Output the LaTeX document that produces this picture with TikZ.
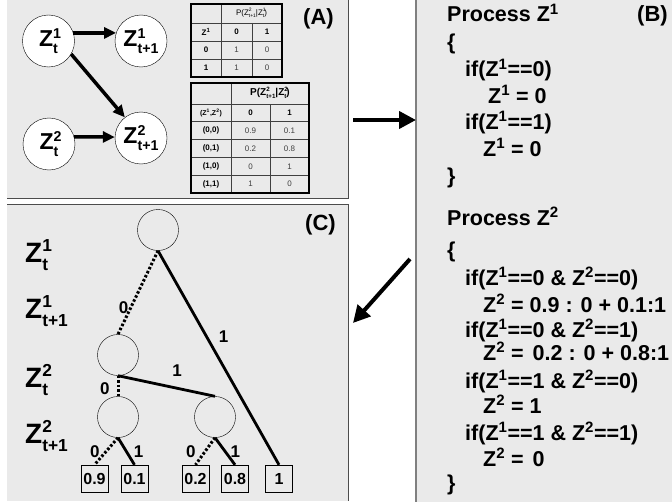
\documentclass[tikz,border=0pt]{standalone}
\usepackage{fontspec}
\usepackage{graphicx}
\setmainfont{Liberation Sans}
\usetikzlibrary{arrows.meta,positioning}
\definecolor{panelgray}{RGB}{234,234,234}
\newcommand{\zz}[2]{Z\rlap{\raisebox{.38em}{\scalebox{.62}{#1}}}\raisebox{-.3em}{\scalebox{.62}{#2}}}

\begin{document}
\begin{tikzpicture}[x=1pt,y=-1pt,
    edgeline/.style={draw=black!70,line width=1pt},
    cellline/.style={draw=black!75,line width=0.8pt},
    cnode/.style={circle,draw,fill=white,minimum size=52pt,inner sep=0pt,font=\fontsize{23}{25}\selectfont\bfseries},
    tnode/.style={circle,draw,minimum size=41pt,inner sep=0pt},
    leaf/.style={draw,minimum width=27pt,minimum height=27pt,inner sep=0pt,font=\fontsize{16}{18}\selectfont\bfseries},
    arc0/.style={line width=3pt,dash pattern=on 2.5pt off 2pt},
    arc1/.style={line width=2.8pt},
    lab/.style={inner sep=0pt,font=\fontsize{17}{19}\selectfont\bfseries},
    code/.style={anchor=base west,inner sep=0pt,font=\fontsize{21.5}{24}\selectfont\bfseries},
    paneltag/.style={anchor=base west,inner sep=0pt,font=\fontsize{22}{24}\selectfont\bfseries},
    lvl/.style={anchor=base west,inner sep=0pt,font=\fontsize{28}{30}\selectfont\bfseries},
    cell/.style={inner sep=0pt,font=\fontsize{8}{9}\selectfont\bfseries},
    val/.style={inner sep=0pt,font=\fontsize{8}{9}\selectfont,text=black!75},
    dagarrow/.style={line width=3.5pt,-{Triangle[length=12pt,width=11pt]}},
    bigarrow/.style={line width=4pt,-{Triangle[length=17pt,width=17pt]}}]
  \useasboundingbox (0,0) rectangle (672,503);

  % panels
  \fill[panelgray] (7,-2) rectangle (348,198);
  \fill[panelgray] (7,204) rectangle (348,501);
  \fill[panelgray] (416,-2) rectangle (674,502);
  \draw[edgeline] (7,198) -- (348,198) -- (348,-2);
  \draw[edgeline] (7,204) -- (348,204) -- (348,501);
  \draw[line width=2pt,gray] (416,-2) -- (416,502);

  % (A) network
  \node[cnode] (z1t) at (48.5,41) {\zz{1}{t}};
  \node[cnode] (z1n) at (141,41) {\zz{1}{t+1}};
  \node[cnode] (z2t) at (49,144) {\zz{2}{t}};
  \node[cnode] (z2n) at (141,138) {\zz{2}{t+1}};
  \draw[dagarrow] (z1t.18) -- (z1n.162);
  \draw[dagarrow] (z2t.16) -- (z2n.178);
  \draw[dagarrow] (z1t.-30) -- (z2n.128);
  \node[paneltag] (ta) at (303,25) {(A)};

  % (A) first table
  \draw[cellline] (221,4) -- (221,77);
  \draw[cellline] (252,23) -- (252,77);
  \draw[cellline] (191,23) -- (282,23);
  \draw[cellline] (191,41) -- (282,41);
  \draw[cellline] (191,59) -- (282,59);
  \draw[line width=1.5pt] (191,4) rectangle (282,77);
  \node[cell,font=\fontsize{8}{9}\selectfont] (ha) at (251.5,13) {P(\zz{2}{t+1}|\zz{1}{t})};
  \node[cell] (a10) at (206,32) {Z\textsuperscript{1}};
  \node[cell] (a11) at (236.5,32) {0};
  \node[cell] (a12) at (267,32) {1};
  \node[cell] (a20) at (206,50) {0};
  \node[val] (a21) at (236.5,50) {1};
  \node[val] (a22) at (267,50) {0};
  \node[cell] (a30) at (206,68) {1};
  \node[val] (a31) at (236.5,68) {1};
  \node[val] (a32) at (267,68) {0};

  % (A) second table
  \draw[cellline] (231,83) -- (231,193);
  \draw[cellline] (270,104) -- (270,193);
  \draw[cellline] (191,104) -- (309,104);
  \draw[cellline] (191,121.8) -- (309,121.8);
  \draw[cellline] (191,139.6) -- (309,139.6);
  \draw[cellline] (191,157.4) -- (309,157.4);
  \draw[cellline] (191,175.2) -- (309,175.2);
  \draw[line width=1.5pt] (191,83) rectangle (309,193);
  \node[cell,font=\fontsize{10}{11}\selectfont\bfseries] (hb) at (270,93) {P(\zz{2}{t+1}|\zz{2}{t})};
  \node[cell,font=\fontsize{7}{8}\selectfont\bfseries] (b10) at (211,113) {(Z\textsuperscript{1},Z\textsuperscript{2})};
  \node[cell] (b11) at (250.5,113) {0};
  \node[cell] (b12) at (289.5,113) {1};
  \node[cell] (b20) at (211,130.7) {(0,0)};
  \node[val] (b21) at (250.5,130.7) {0.9};
  \node[val] (b22) at (289.5,130.7) {0.1};
  \node[cell] (b30) at (211,148.5) {(0,1)};
  \node[val] (b31) at (250.5,148.5) {0.2};
  \node[val] (b32) at (289.5,148.5) {0.8};
  \node[cell] (b40) at (211,166.3) {(1,0)};
  \node[val] (b41) at (250.5,166.3) {0};
  \node[val] (b42) at (289.5,166.3) {1};
  \node[cell] (b50) at (211,184.1) {(1,1)};
  \node[val] (b51) at (250.5,184.1) {1};
  \node[val] (b52) at (289.5,184.1) {0};

  % (B) code
  \node[code] (p1) at (447,22) {Process Z\textsuperscript{1}};
  \node[paneltag] (tb) at (637,22) {(B)};
  \node[code] (o1) at (447,49) {\{};
  \node[code] (i1) at (465,77) {if(Z\textsuperscript{1}==0)};
  \node[code] (s1) at (488,103) {Z\textsuperscript{1} = 0};
  \node[code] (i2) at (465,129) {if(Z\textsuperscript{1}==1)};
  \node[code] (s2) at (483,156) {Z\textsuperscript{1} = 0};
  \node[code] (c1) at (447,183) {\}};
  \node[code] (p2) at (447,225) {Process Z\textsuperscript{2}};
  \node[code] (o2) at (447,257) {\{};
  \node[code] (i3) at (465,285) {if(Z\textsuperscript{1}==0 \& Z\textsuperscript{2}==0)};
  \node[code] (s3) at (483,312) {Z\textsuperscript{2} = 0.9 : 0 + 0.1:1};
  \node[code] (i4) at (465,337) {if(Z\textsuperscript{1}==0 \& Z\textsuperscript{2}==1)};
  \node[code] (s4) at (483,360) {Z\textsuperscript{2} =\kern3pt{} 0.2 : 0 + 0.8:1};
  \node[code] (i5) at (465,388) {if(Z\textsuperscript{1}==1 \& Z\textsuperscript{2}==0)};
  \node[code] (s5) at (483,413) {Z\textsuperscript{2} = 1};
  \node[code] (i6) at (465,440) {if(Z\textsuperscript{1}==1 \& Z\textsuperscript{2}==1)};
  \node[code] (s6) at (483,466) {Z\textsuperscript{2} =\kern3pt{} 0};
  \node[code] (c2) at (447,490) {\}};

  % arrows between panels
  \coordinate (ab0) at (353,120);
  \coordinate (ab1) at (416,120);
  \draw[bigarrow] (ab0) -- (ab1);
  \coordinate (bc0) at (410,259);
  \coordinate (bc1) at (353,323);
  \draw[bigarrow] (bc0) -- (bc1);

  % (C) tree
  \node[paneltag] (tc) at (305,230) {(C)};
  \node[lvl] (l1) at (25,262) {\zz{1}{t}};
  \node[lvl] (l2) at (25,318) {\zz{1}{t+1}};
  \node[lvl] (l3) at (25,387) {\zz{2}{t}};
  \node[lvl] (l4) at (25,443) {\zz{2}{t+1}};
  \node[tnode] (r) at (158,230) {};
  \node[tnode] (m) at (118,355) {};
  \node[tnode] (ml) at (118,417) {};
  \node[tnode] (mr) at (215,417) {};
  \node[leaf] (q1) at (94.5,478.5) {0.9};
  \node[leaf] (q2) at (134.5,478.5) {0.1};
  \node[leaf] (q3) at (195.5,478.5) {0.2};
  \node[leaf] (q4) at (235,478.5) {0.8};
  \node[leaf] (q5) at (279,478.5) {1};
  \draw[arc0] (r.south) -- node[lab,pos=.68,left=1pt] (e1) {0} (m.north);
  \draw[arc1] (r.south) -- node[lab,pos=.4,right=11pt] (e2) {1} (q5.north);
  \draw[arc0] (m.south) -- node[lab,pos=.65,left=7pt] (e3) {0} (ml.north);
  \draw[arc1] (m.south) -- node[lab,pos=.61,above=10pt] (e4) {1} (mr.north);
  \draw[arc0] (ml.south) -- node[lab,pos=.51,left=5pt] (e5) {0} (q1.north);
  \draw[arc1] (ml.south) -- node[lab,pos=.51,right=6pt] (e6) {1} (q2.north);
  \draw[arc0] (mr.south) -- node[lab,pos=.51,left=8pt] (e7) {0} (q3.north);
  \draw[arc1] (mr.south) -- node[lab,pos=.51,right=4pt] (e8) {1} (q4.north);
\end{tikzpicture}
\end{document}
